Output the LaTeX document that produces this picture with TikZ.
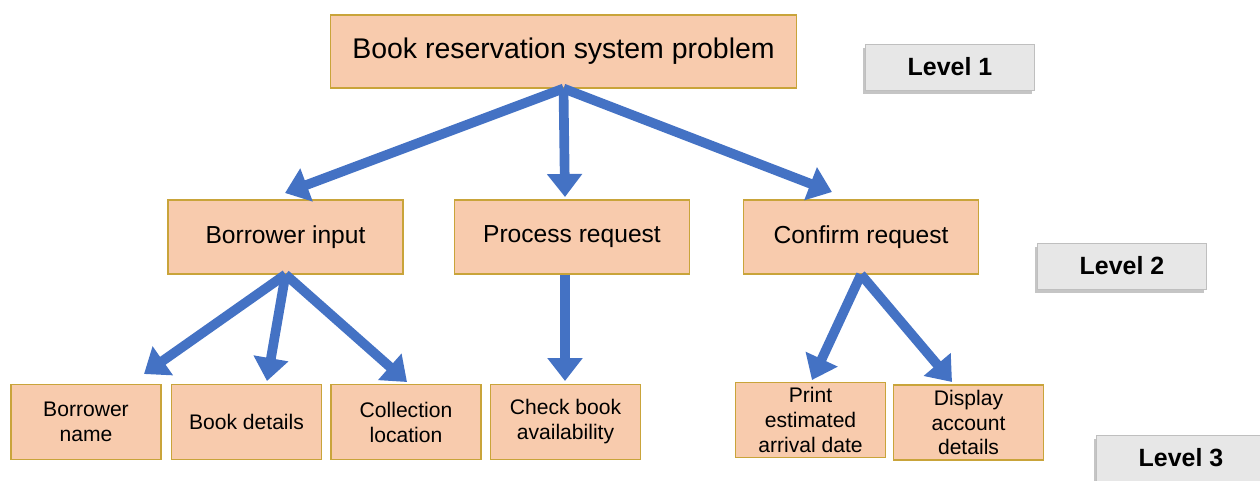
\documentclass[tikz,border=0pt]{standalone}
\usepackage{fontspec}
\setmainfont{Liberation Sans}
\usetikzlibrary{arrows.meta,shadows}
\definecolor{boxfill}{HTML}{F8CBAD}
\definecolor{boxline}{HTML}{C9A43A}
\definecolor{arrowblue}{HTML}{4472C4}
\definecolor{levelfill}{HTML}{E7E7E7}
\begin{document}
\begin{tikzpicture}[x=0.02cm,y=-0.02cm]
    \tikzstyle{task}=[rectangle,draw=boxline,fill=boxfill,line width=0.6pt,inner sep=0pt,align=center]
    \tikzstyle{sub}=[task,minimum width=3cm,minimum height=1.5cm,font=\fontsize{12}{14.2}\selectfont]
    \tikzstyle{level}=[rectangle,draw=black!25,fill=levelfill,minimum width=3.38cm,minimum height=0.92cm,font=\fontsize{14.2}{16}\selectfont\bfseries,drop shadow={shadow xshift=-1.2pt,shadow yshift=-2.5pt,fill=black!45}]
    \tikzstyle{link}=[draw=arrowblue,line width=5.5pt,-{Triangle[length=0.46cm,width=0.68cm]}]
    \useasboundingbox (0,0) rectangle (1260,480);
    % level 1
    \node[task,minimum width=9.34cm,minimum height=1.46cm,font=\fontsize{16.2}{19}\selectfont] (prob) at (563.5,51.5) {Book reservation system problem};
    % level 2
    \node[task,minimum width=4.7cm,minimum height=1.48cm,font=\fontsize{14}{16}\selectfont] (input) at (285.5,237) {Borrower input};
    \node[task,minimum width=4.7cm,minimum height=1.48cm,font=\fontsize{14}{16}\selectfont] (proc) at (572,237) {Process request};
    \node[task,minimum width=4.7cm,minimum height=1.48cm,font=\fontsize{14}{16}\selectfont] (conf) at (861,237) {Confirm request};
    % level 3
    \node[sub] (bname) at (86,422) {Borrower\\name};
    \node[sub] (bdet) at (246.5,422) {Book details};
    \node[sub] (coll) at (406,422) {Collection\\location};
    \node[sub] (check) at (565.5,422) {Check book\\availability};
    \node[sub] (print) at (810.5,420) {Print\\estimated\\arrival date};
    \node[sub] (disp) at (968.5,422.5) {Display\\account\\details};
    % level labels
    \node[level] (l1) at (950,67) {Level 1};
    \node[level] (l2) at (1122,266) {Level 2};
    \node[level] (l3) at (1181,458) {Level 3};
    % arrow tips
    \coordinate (t1) at (285,193);
    \coordinate (t2) at (565,197);
    \coordinate (t3) at (832,192);
    \coordinate (t4) at (144,374);
    \coordinate (t5) at (267,381);
    \coordinate (t6) at (407,382);
    \coordinate (t7) at (565,381);
    \coordinate (t8) at (812,380);
    \coordinate (t9) at (952,382);
    \draw[link] (prob.south) -- (t1);
    \draw[link] (prob.south) -- (t2);
    \draw[link] (prob.south) -- (t3);
    \draw[link] (input.south) -- (t4);
    \draw[link] (input.south) -- (t5);
    \draw[link] (input.south) -- (t6);
    \draw[link] (proc.south -| t7) -- (t7);
    \draw[link] (conf.south) -- (t8);
    \draw[link] (conf.south) -- (t9);
\end{tikzpicture}
\end{document}
